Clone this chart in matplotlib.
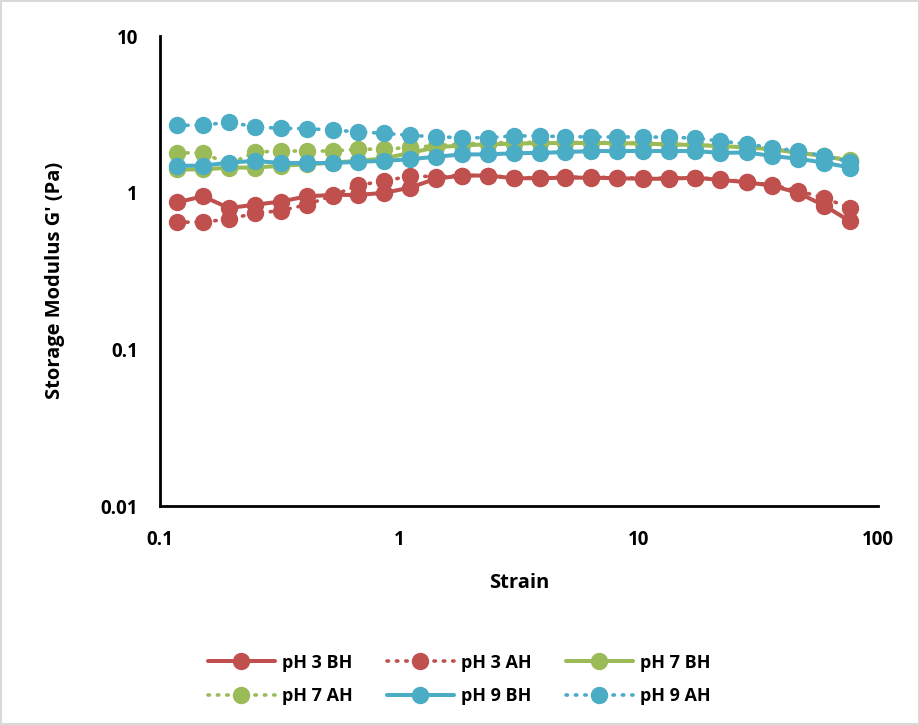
import numpy as np
import matplotlib
matplotlib.use("Agg")
import matplotlib.pyplot as plt
from matplotlib.ticker import FixedLocator, NullLocator

plt.rcParams['font.family'] = ['Open Sans', 'DejaVu Sans']
plt.rcParams['font.weight'] = 'bold'

# strain values (log spaced)
strain = [0.118, 0.151, 0.194, 0.249, 0.320, 0.410, 0.526, 0.675, 0.865,
          1.11, 1.42, 1.83, 2.34, 3.01, 3.86, 4.95, 6.34, 8.14,
          10.4, 13.4, 17.2, 22.0, 28.3, 36.3, 46.5, 59.7, 76.5]

ph3_bh = [0.87, 0.95, 0.80, 0.84, 0.88, 0.95, 0.97, 0.97, 1.00,
          1.08, 1.23, 1.29, 1.29, 1.24, 1.24, 1.25, 1.25, 1.24,
          1.23, 1.23, 1.25, 1.21, 1.17, 1.11, 1.00, 0.83, 0.66]
ph3_ah = [0.65, 0.65, 0.68, 0.74, 0.77, 0.84, 0.96, 1.12, 1.19,
          1.28, 1.27, 1.29, 1.29, 1.25, 1.25, 1.26, 1.26, 1.25,
          1.24, 1.24, 1.25, 1.22, 1.18, 1.12, 1.03, 0.93, 0.80]
ph7_bh = [1.41, 1.41, 1.45, 1.45, 1.49, 1.52, 1.56, 1.60, 1.66,
          1.80, 1.95, 2.01, 2.04, 2.06, 2.08, 2.08, 2.08, 2.08,
          2.06, 2.04, 2.02, 1.99, 1.95, 1.90, 1.80, 1.72, 1.60]
ph7_ah = [1.80, 1.80, 1.52, 1.82, 1.85, 1.85, 1.85, 1.90, 1.90,
          1.95, 2.00, 2.05, 2.08, 2.10, 2.10, 2.10, 2.10, 2.10,
          2.08, 2.05, 2.02, 2.00, 1.95, 1.90, 1.82, 1.72, 1.62]
ph9_bh = [1.49, 1.49, 1.56, 1.60, 1.55, 1.55, 1.55, 1.58, 1.60,
          1.64, 1.70, 1.76, 1.76, 1.79, 1.80, 1.82, 1.85, 1.85,
          1.85, 1.85, 1.85, 1.80, 1.81, 1.72, 1.65, 1.56, 1.45]
ph9_ah = [2.70, 2.70, 2.83, 2.64, 2.58, 2.57, 2.52, 2.45, 2.40,
          2.33, 2.28, 2.25, 2.25, 2.31, 2.31, 2.28, 2.28, 2.27,
          2.28, 2.26, 2.24, 2.14, 2.05, 1.94, 1.85, 1.72, 1.58]

series = [("pH 3 BH", ph3_bh, "#C0504D", "-"),
          ("pH 3 AH", ph3_ah, "#C0504D", ":"),
          ("pH 7 BH", ph7_bh, "#9BBB59", "-"),
          ("pH 7 AH", ph7_ah, "#9BBB59", ":"),
          ("pH 9 BH", ph9_bh, "#4BACC6", "-"),
          ("pH 9 AH", ph9_ah, "#4BACC6", ":")]

fig = plt.figure(figsize=(9.2, 7.25), dpi=100)
fig.patch.set_edgecolor("#D9D9D9")
fig.patch.set_linewidth(1.5)
ax = fig.add_axes([0.174, 0.302, 0.780, 0.648])

handles = []
for name, vals, col, ls in series:
    if ls == "-":
        h, = ax.plot(strain, vals, color=col, lw=2.9, marker="o", ms=11.5,
                     label=name, solid_capstyle="round")
    else:
        h, = ax.plot(strain, vals, color=col, lw=2.6, ls=(0, (0.4, 2.2)),
                     dash_capstyle="round", marker="o", ms=11.5, label=name)
    handles.append(h)

ax.set_xscale("log")
ax.set_yscale("log")
ax.set_xlim(0.1, 100)
ax.set_ylim(0.01, 10)
ax.xaxis.set_major_locator(FixedLocator([0.1, 1, 10, 100]))
ax.yaxis.set_major_locator(FixedLocator([0.01, 0.1, 1, 10]))
ax.xaxis.set_minor_locator(NullLocator())
ax.yaxis.set_minor_locator(NullLocator())
ax.set_xticklabels(["0.1", "1", "10", "100"], fontweight="bold")
ax.set_yticklabels(["0.01", "0.1", "1", "10"], fontweight="bold")
ax.tick_params(axis="both", length=0, labelsize=13.5)
ax.tick_params(axis="x", pad=17)
ax.tick_params(axis="y", pad=16)
for s in ["top", "right"]:
    ax.spines[s].set_visible(False)
for s in ["left", "bottom"]:
    ax.spines[s].set_linewidth(2)
    ax.spines[s].set_color("black")

ax.set_xlabel("Strain", fontsize=14.5, fontweight="bold", labelpad=17)
ax.set_ylabel("Storage Modulus G' (Pa)", fontsize=14.5, fontweight="bold")
ax.yaxis.set_label_coords(-0.133, 0.48)

# legend is filled row by row in the reference, matplotlib fills by column
order = [0, 3, 1, 4, 2, 5]
fig.legend([handles[i] for i in order], [series[i][0] for i in order],
           loc="lower center", bbox_to_anchor=(0.499, 0.005), ncol=3,
           frameon=False, prop={"size": 13, "weight": "bold"},
           handlelength=3.7, columnspacing=1.9,
           handletextpad=0.4, labelspacing=0.85)

fig.savefig("out.png", dpi=100)
